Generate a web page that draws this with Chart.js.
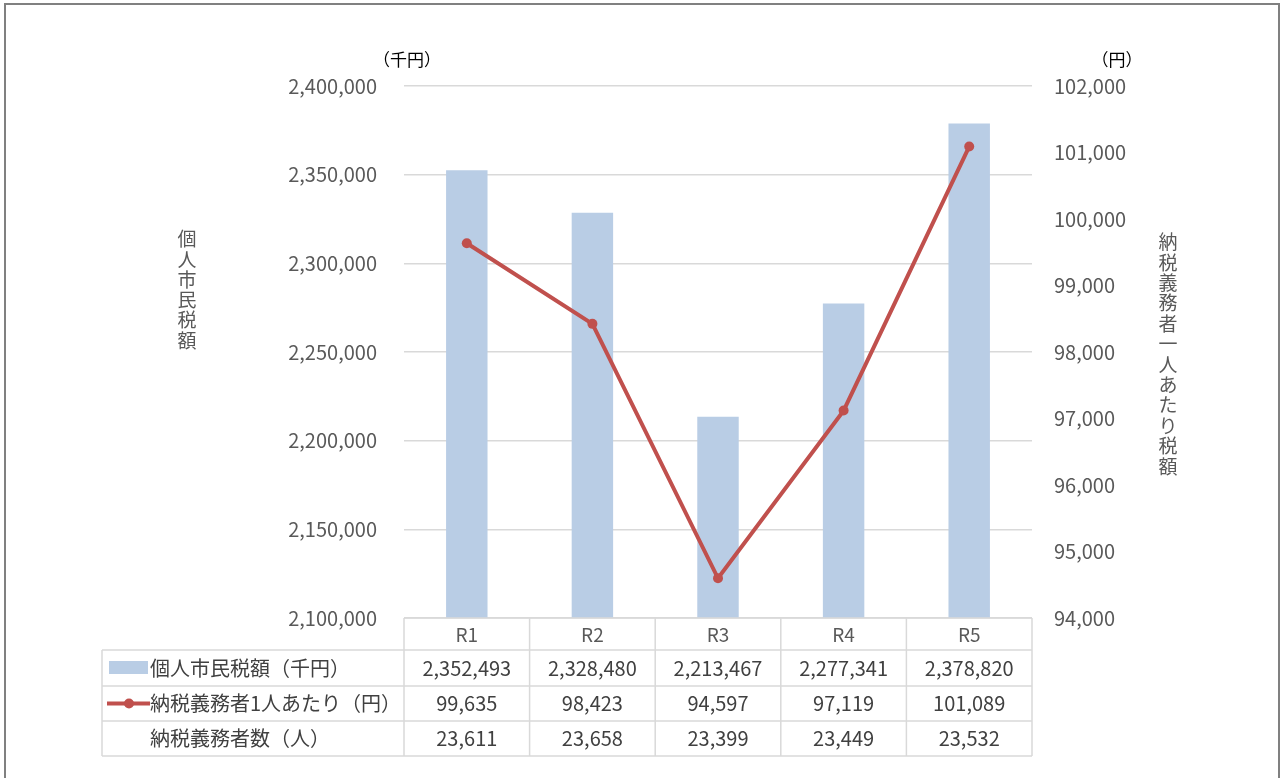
<!DOCTYPE html>
<html lang="ja">
<head>
<meta charset="utf-8">
<title>個人市民税額の推移</title>
<script src="https://cdn.jsdelivr.net/npm/chart.js@4.4.1/dist/chart.umd.min.js"></script>
<style>
  body { margin: 0; background: #fff; }
  #wrap { width: 1282px; height: 778px; }
</style>
</head>
<body>
<div id="wrap"><canvas id="myChart" width="1282" height="778"></canvas></div>
<script>
// data
const labels = ["R1", "R2", "R3", "R4", "R5"];
const taxTotal = [2352493, 2328480, 2213467, 2277341, 2378820]; // 千円
const perPerson = [99635, 98423, 94597, 97119, 101089]; // 円
const taxpayers = [23611, 23658, 23399, 23449, 23532]; // 人

const rowLabels = ["個人市民税額（千円）", "納税義務者1人あたり（円）", "納税義務者数（人）"];
const leftTitle = "個人市民税額";
const rightTitle = "納税義務者一人あたり税額";
const leftUnit = "（千円）";
const rightUnit = "（円）";

const FONT = '"Noto Sans CJK JP", "Noto Sans", sans-serif';
const BAR_COLOR = "#b9cde5";
const LINE_COLOR = "#c0504d";
const GRID = "#d9d9d9";
const TEXT = "#595959";
const fmt = (v) => v.toLocaleString("en-US");

const tablePlugin = {
  id: "dataTable",
  beforeDraw(chart) {
    const ctx = chart.ctx;
    ctx.save();
    // outer frame
    ctx.strokeStyle = "#808080";
    ctx.lineWidth = 2;
    ctx.strokeRect(5, 4, 1274, 800);
    ctx.restore();
  },
  afterDraw(chart) {
    const ctx = chart.ctx;
    const x = chart.scales.x;
    const area = chart.chartArea;
    const half = (x.getPixelForValue(1) - x.getPixelForValue(0)) / 2;
    const tableLeft = 102;
    const rowTops = [650, 686, 721, 756];
    const bottom = rowTops[rowTops.length - 1];

    ctx.save();
    ctx.strokeStyle = GRID;
    ctx.lineWidth = 1.5;
    ctx.beginPath();
    // header top
    ctx.moveTo(area.left, area.bottom);
    ctx.lineTo(area.right, area.bottom);
    // row lines
    rowTops.forEach((y) => {
      ctx.moveTo(tableLeft, y);
      ctx.lineTo(area.right, y);
    });
    // column lines
    labels.forEach((l, i) => {
      const cx = x.getPixelForValue(i);
      ctx.moveTo(cx - half, area.bottom);
      ctx.lineTo(cx - half, bottom);
    });
    ctx.moveTo(area.right, area.bottom);
    ctx.lineTo(area.right, bottom);
    ctx.moveTo(tableLeft, rowTops[0]);
    ctx.lineTo(tableLeft, bottom);
    ctx.stroke();

    // values
    const rows = [taxTotal, perPerson, taxpayers];
    ctx.font = "20px " + FONT;
    ctx.fillStyle = "#404040";
    ctx.textAlign = "center";
    ctx.textBaseline = "middle";
    rows.forEach((row, r) => {
      const cy = (rowTops[r] + rowTops[r + 1]) / 2;
      row.forEach((v, i) => {
        ctx.fillText(fmt(v), x.getPixelForValue(i), cy);
      });
    });

    // row labels with legend keys
    ctx.font = "20px " + FONT;
    ctx.textAlign = "left";
    rowLabels.forEach((t, r) => {
      const cy = (rowTops[r] + rowTops[r + 1]) / 2;
      ctx.fillText(t, 150, cy);
    });
    let cy = (rowTops[0] + rowTops[1]) / 2;
    ctx.fillStyle = BAR_COLOR;
    ctx.fillRect(109, cy - 7, 39, 13);
    cy = (rowTops[1] + rowTops[2]) / 2;
    ctx.strokeStyle = LINE_COLOR;
    ctx.lineWidth = 4;
    ctx.beginPath();
    ctx.moveTo(107, cy);
    ctx.lineTo(150, cy);
    ctx.stroke();
    ctx.fillStyle = LINE_COLOR;
    ctx.beginPath();
    ctx.arc(129, cy, 5, 0, Math.PI * 2);
    ctx.fill();

    // axis titles, written top to bottom
    ctx.fillStyle = TEXT;
    ctx.font = "19px " + FONT;
    ctx.textAlign = "center";
    [...leftTitle].forEach((c, i) => ctx.fillText(c, 187, 239 + i * 20.3));
    [...rightTitle].forEach((c, i) => ctx.fillText(c, 1168, 242 + i * 20.4));

    // units
    ctx.fillStyle = "#000";
    ctx.font = "17px " + FONT;
    ctx.fillText(leftUnit, 407, 60);
    ctx.fillText(rightUnit, 1117, 60);
    ctx.restore();
  },
};

new Chart(document.getElementById("myChart"), {
  data: {
    labels: labels,
    datasets: [
      {
        type: "line",
        label: rowLabels[1],
        data: perPerson,
        yAxisID: "y1",
        borderColor: LINE_COLOR,
        backgroundColor: LINE_COLOR,
        borderWidth: 4,
        pointRadius: 5,
        pointBorderWidth: 0,
        tension: 0,
        order: 0,
      },
      {
        type: "bar",
        label: rowLabels[0],
        data: taxTotal,
        yAxisID: "y",
        backgroundColor: BAR_COLOR,
        barPercentage: 0.33,
        categoryPercentage: 1,
        order: 1,
      },
    ],
  },
  options: {
    responsive: false,
    animation: false,
    layout: { padding: { top: 86, left: 0, right: 0, bottom: 0 } },
    plugins: {
      legend: { display: false },
      tooltip: { enabled: false },
    },
    scales: {
      x: {
        grid: { display: false, drawTicks: false },
        border: { display: false },
        ticks: { color: TEXT, font: { family: FONT, size: 19 }, padding: 5 },
        afterFit: (s) => { s.height = 160; },
      },
      y: {
        position: "left",
        min: 2100000,
        max: 2400000,
        grid: { color: GRID, lineWidth: 1.5, drawTicks: false },
        border: { display: false },
        ticks: {
          stepSize: 50000,
          color: TEXT,
          font: { family: FONT, size: 20 },
          padding: 27,
          callback: (v) => fmt(v),
        },
        afterFit: (s) => { s.width = 404; },
      },
      y1: {
        position: "right",
        min: 94000,
        max: 102000,
        grid: { display: false, drawTicks: false },
        border: { display: false },
        ticks: {
          stepSize: 1000,
          color: TEXT,
          font: { family: FONT, size: 20 },
          padding: 22,
          callback: (v) => fmt(v),
        },
        afterFit: (s) => { s.width = 250; },
      },
    },
  },
  plugins: [tablePlugin],
});
</script>
</body>
</html>
